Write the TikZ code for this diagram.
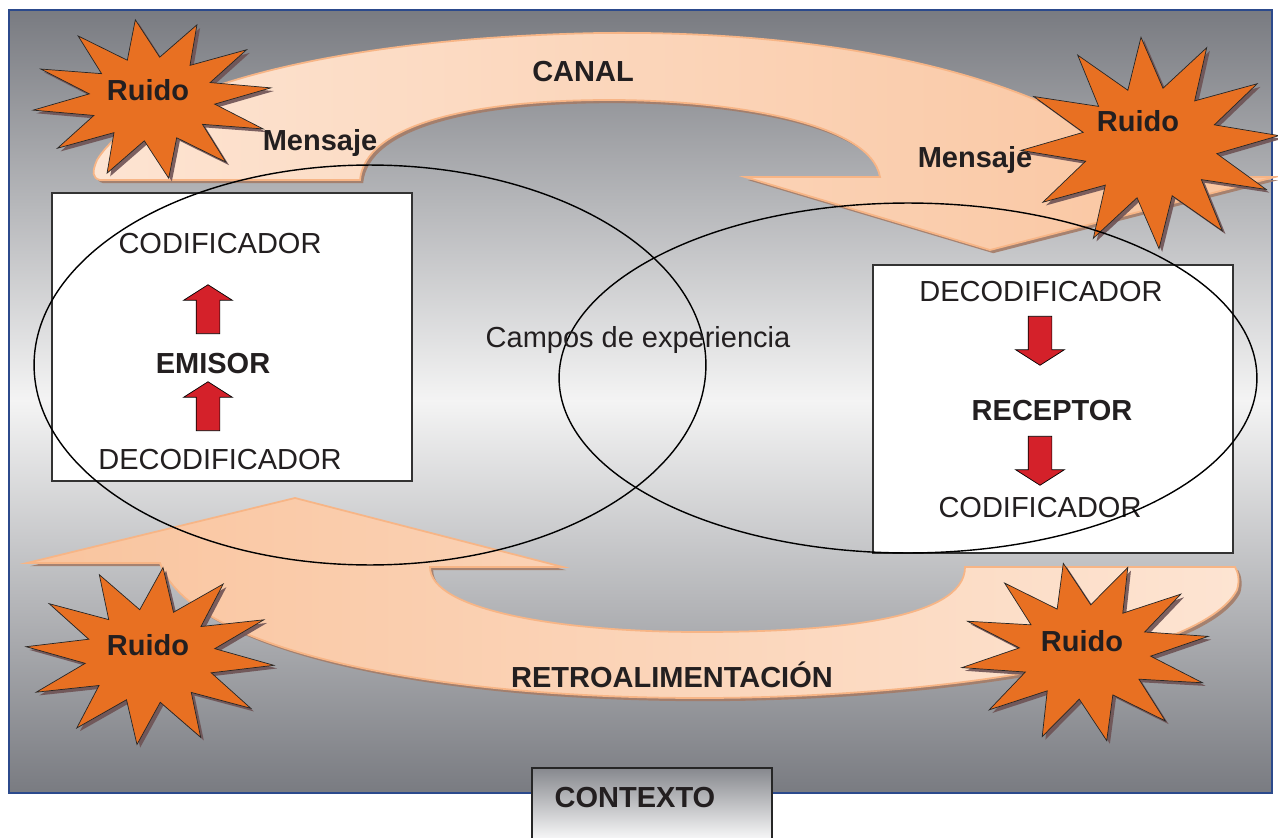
\documentclass[tikz,border=0pt]{standalone}
\usepackage{fontspec}
\setmainfont{Liberation Sans}
\usetikzlibrary{shapes.geometric,shapes.arrows,shadows}

\definecolor{fondo}{HTML}{797B81}
\definecolor{claro}{HTML}{F4F4F4}
\definecolor{marco}{HTML}{2C4A8C}
\definecolor{durazno}{HTML}{FDE4D2}
\definecolor{duraznoosc}{HTML}{F9C49E}
\definecolor{bordedur}{HTML}{F7B586}
\definecolor{sombra}{HTML}{A47C68}
\definecolor{naranja}{HTML}{E87022}
\definecolor{sombraruido}{HTML}{6E5254}
\definecolor{rojo}{HTML}{D4212A}
\definecolor{texto}{HTML}{231F20}

\begin{document}
\begin{tikzpicture}[x=0.02cm, y=-0.02cm,
		every node/.style = {font=\fontsize{16.5}{20}\selectfont, text=texto},
		titulo/.style = {font=\fontsize{16.5}{20}\selectfont\bfseries},
		banda/.style = {draw=bordedur, line width=1pt,
			drop shadow={shadow xshift=1.8pt, shadow yshift=-1.8pt, fill=sombra, opacity=.9}},
		ruido/.style = {star, star points=12, star point ratio=1.9,
			inner sep=0pt, draw=black!85, fill=naranja,
			drop shadow={shadow xshift=1.8pt, shadow yshift=-1.8pt, fill=sombraruido, opacity=.9}},
		caja/.style = {draw=black!80, fill=white, line width=.8pt,
			minimum width=7.2cm, minimum height=5.76cm},
		flecha/.style = {single arrow, draw=black, fill=rojo, inner sep=0.23cm,
			single arrow head extend=0.25cm, single arrow tip angle=115,
			minimum height=0.98cm},
		campo/.style = {ellipse, draw=black, line width=.8pt}]
	\useasboundingbox (0,0) rectangle (1278,838);
	\fill[white] (0,0) rectangle (1278,838);
	% fondo
	\shade[top color=fondo, bottom color=claro] (9,10) rectangle (1272,401);
	\shade[top color=claro, bottom color=fondo] (9,400) rectangle (1272,793);
	\draw[marco, line width=1pt] (9,10) rectangle (1272,793);
	% canal
	\path[banda, left color=durazno, right color=duraznoosc]
		(100,180) .. controls (92,178) and (92,172) .. (97,160)
		.. controls (140,90) and (330,38) .. (600,33)
		.. controls (850,30) and (1060,80) .. (1160,177)
		-- (1275,177) -- (990,250) -- (745,177) -- (880,177)
		.. controls (870,120) and (720,100) .. (610,100)
		.. controls (470,100) and (365,125) .. (360,180) -- cycle;
	% retroalimentacion
	\path[banda, left color=duraznoosc, right color=durazno]
		(1235,567) -- (965,567)
		.. controls (965,620) and (830,632) .. (700,632)
		.. controls (560,632) and (430,610) .. (430,567)
		-- (563,567) -- (295,498) -- (27,563) -- (160,563)
		.. controls (190,650) and (430,698) .. (700,698)
		.. controls (930,698) and (1200,660) .. (1237,590)
		.. controls (1240,580) and (1238,572) .. (1235,567) -- cycle;
	% contexto
	\node[draw=black!85, line width=.8pt, top color=fondo!90, bottom color=white,
		minimum width=4.8cm, minimum height=1.52cm] (contexto) at (652,806) {};
	\node[titulo] (contextoTxt) at (635,798) {CONTEXTO};
	% emisor
	\node[caja] (emisor) at (232,337) {};
	\node (codE) at (220,244) {CODIFICADOR};
	\node[flecha, rotate=90] (flechaE1) at (208,313) {};
	\node[titulo] (emisorTxt) at (213,364) {EMISOR};
	\node[flecha, rotate=90] (flechaE2) at (208,410) {};
	\node (decE) at (220,460) {DECODIFICADOR};
	% receptor
	\node[caja] (receptor) at (1053,409) {};
	\node (decR) at (1041,292) {DECODIFICADOR};
	\node[flecha, rotate=-90] (flechaR1) at (1040,337) {};
	\node[titulo] (receptorTxt) at (1052,411) {RECEPTOR};
	\node[flecha, rotate=-90] (flechaR2) at (1040,457) {};
	\node (codR) at (1040,508) {CODIFICADOR};
	% ruido
	\node[ruido, minimum size=3.2cm, xscale=1.5, rotate=8] (ruido1) at (152,99) {};
	\node[ruido, minimum size=4.24cm, xscale=1.22, rotate=4] (ruido2) at (1150,143) {};
	\node[ruido, minimum size=3.56cm, xscale=1.4, rotate=-6] (ruido3) at (150,656) {};
	\node[ruido, minimum size=3.6cm, xscale=1.39, rotate=10] (ruido4) at (1085,652) {};
	\node[titulo] (ruidoTxt1) at (148,90) {Ruido};
	\node[titulo] (ruidoTxt2) at (1138,121) {Ruido};
	\node[titulo] (ruidoTxt3) at (148,645) {Ruido};
	\node[titulo] (ruidoTxt4) at (1082,641) {Ruido};
	% campos de experiencia
	\node[campo, minimum width=13.44cm, minimum height=8cm] (campoE) at (370,365) {};
	\node[campo, minimum width=13.96cm, minimum height=7cm] (campoR) at (908,378) {};
	\node (campos) at (638,340) {Campos de experiencia};
	% textos de las bandas
	\node[titulo] (canal) at (583,72) {CANAL};
	\node[titulo] (mensaje1) at (320,143) {Mensaje};
	\node[titulo] (mensaje2) at (975,160) {Mensaje};
	\node[titulo] (retro) at (672,675) {RETROALIMENTACIÓN};
\end{tikzpicture}
\end{document}
